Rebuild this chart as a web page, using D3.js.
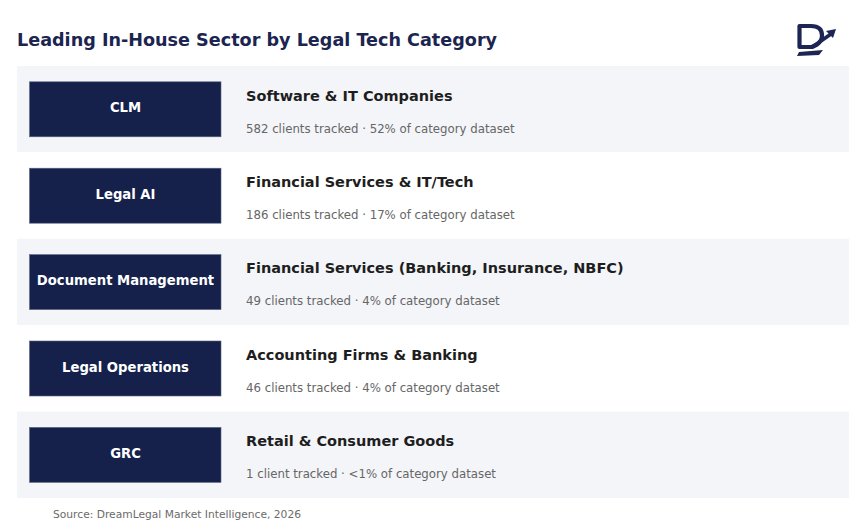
<!DOCTYPE html>
<html>
<head lang="en">
	<meta charset="UTF-8">
	<title>Leading In-House Sector by Legal Tech Category</title>
	<script src="https://cdn.jsdelivr.net/npm/d3@7"></script>
	<style>
		body { margin: 0; background: #fff; }
		text { font-family: "DejaVu Sans", sans-serif; }
	</style>
</head>
<body>

<script>

	var categories = ["CLM", "Legal AI", "Document Management", "Legal Operations", "GRC"];
	var sectors = [
		"Software & IT Companies",
		"Financial Services & IT/Tech",
		"Financial Services (Banking, Insurance, NBFC)",
		"Accounting Firms & Banking",
		"Retail & Consumer Goods"
	];
	var clients = [582, 186, 49, 46, 1];
	var shareLabels = ["52%", "17%", "4%", "4%", "<1%"];

	var W = 863, H = 530;
	var NAVY = "#15214b";

	var svg = d3.select("body").append("svg")
		.attr("width", W).attr("height", H);

	// title
	svg.append("text")
		.attr("x", 17).attr("y", 46)
		.attr("font-size", 17.6).attr("font-weight", "bold")
		.attr("fill", "#1b2550")
		.text("Leading In-House Sector by Legal Tech Category");

	// logo (rough D + arrow mark)
	var logo = svg.append("g");
	logo.append("path")
		.attr("d", "M799.5 26 H811 Q822 26 822 35.5 Q822 41 817 44.5 L812 47 H799.5 Z")
		.attr("fill", "none").attr("stroke", "#1c2553").attr("stroke-width", 4.2)
		.attr("stroke-linejoin", "round");
	logo.append("path")
		.attr("d", "M813 46.5 L831 34")
		.attr("stroke", "#1c2553").attr("stroke-width", 3.6).attr("fill", "none");
	logo.append("path")
		.attr("d", "M836 29 L826 31 L833 38 Z")
		.attr("fill", "#1c2553");
	logo.append("path")
		.attr("d", "M799 52 L823 50 L819 55 L797 56 Z")
		.attr("fill", "#1c2553");

	var y = d3.scaleBand()
		.domain(categories)
		.range([66, 498])
		.padding(0);

	var rows = svg.selectAll("g.row")
		.data(categories)
		.enter().append("g")
		.attr("class", "row")
		.attr("transform", function (d) { return "translate(0," + y(d) + ")"; });

	rows.append("rect")
		.attr("x", 17).attr("y", 0)
		.attr("width", 832).attr("height", y.bandwidth())
		.attr("fill", function (d, i) { return i % 2 === 0 ? "#f4f5f9" : "#ffffff"; });

	rows.append("rect")
		.attr("x", 29.5).attr("y", 15.8)
		.attr("width", 191.5).attr("height", 55)
		.attr("fill", NAVY)
		.attr("stroke", "#5a6482").attr("stroke-width", 0.6);

	rows.append("text")
		.attr("x", 125.5).attr("y", 41.9)
		.attr("text-anchor", "middle").attr("dominant-baseline", "central")
		.attr("font-size", 13.2).attr("font-weight", "bold")
		.attr("fill", "#ffffff")
		.text(function (d) { return d; });

	rows.append("text")
		.attr("x", 246).attr("y", 34.5)
		.attr("font-size", 14.5).attr("font-weight", "bold")
		.attr("fill", "#1e1e1e")
		.text(function (d, i) { return sectors[i]; });

	rows.append("text")
		.attr("x", 246).attr("y", 66.5)
		.attr("font-size", 11.75)
		.attr("fill", "#666666")
		.text(function (d, i) {
			var n = clients[i];
			return n + (n === 1 ? " client" : " clients") + " tracked \u00b7 " + shareLabels[i] + " of category dataset";
		});

	// source note
	svg.append("text")
		.attr("x", 53).attr("y", 518)
		.attr("font-size", 10.7)
		.attr("fill", "#6b6b6b")
		.text("Source: DreamLegal Market Intelligence, 2026");

</script>

</body>
</html>
